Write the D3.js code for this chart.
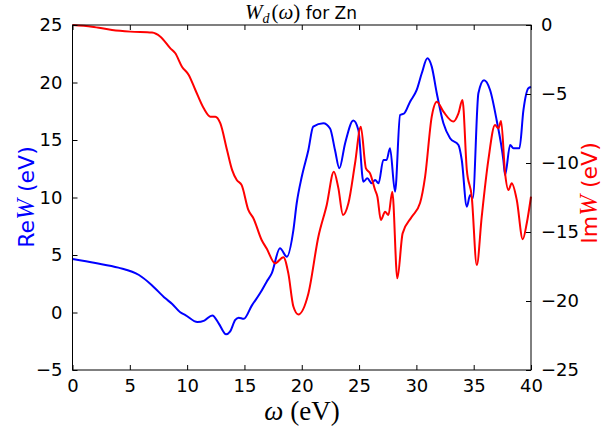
<!DOCTYPE html>
<html><head><meta charset="utf-8">
<script src="https://cdn.jsdelivr.net/npm/d3@7"></script>
<style>body{margin:0;background:#fff}</style>
</head><body>
<svg id="c" width="603" height="429"></svg>
<script>
const omegaRe = [0,2,4,5.8,6.9,8.1,8.7,9.4,9.85,10.9,11.5,12.2,12.75,13.4,13.74,14.2,14.5,14.94,15.64,16.36,16.94,17.38,18.1,18.7,19.27,19.56,20.0,20.58,21.0,21.88,22.47,22.9,23.28,23.78,24.5,24.94,25.38,25.72,26.1,26.4,26.7,27.12,27.4,27.7,28.14,28.58,28.93,29.45,30.03,30.47,30.96,31.34,31.78,32.36,32.94,33.67,33.96,34.4,34.69,34.92,35.41,35.9,36.43,37.0,37.59,37.74,38.18,38.47,38.99,39.34,39.77,40];
const reW = [4.65,4.3,3.9,3.26,2.4,1.23,0.74,0.02,-0.22,-0.83,-0.7,-0.25,-0.94,-1.9,-1.67,-0.65,-0.45,-0.55,0.6,1.67,2.68,3.4,5.58,4.85,7.17,9.5,11.8,14.13,16.16,16.45,16.0,14.13,12.54,14.7,16.7,15.87,11.37,11.67,11.23,11.52,11.23,13.26,13.26,14.28,10.5,17.17,17.3,18.33,19.35,20.8,22.1,21.38,19.06,16.45,15.15,14.57,13.26,9.2,10.22,9.93,19.06,20.2,19.35,16.74,13.26,11.96,14.57,14.28,14.28,17.6,19.5,19.6];
const omegaIm = [0,1.7,3.45,5.04,6.94,7.67,8.54,8.97,9.55,10.14,10.72,11.45,12.03,12.46,12.9,13.48,13.92,14.33,14.76,15.34,15.78,16.5,16.94,17.67,18.4,18.83,19.27,19.7,20.58,21.45,22.18,22.8,23.19,23.6,24.07,24.65,25.15,25.6,25.96,26.4,26.6,26.9,27.27,27.56,27.9,28.34,28.8,29.6,30.32,30.76,31.34,31.78,32.36,33.23,33.67,34.02,34.4,34.83,35.27,35.7,36.28,36.86,37.15,37.39,37.74,38.03,38.32,38.76,39.28,39.63,40];
const imW = [0,-0.12,-0.36,-0.48,-0.55,-0.85,-1.69,-2.05,-3.02,-3.62,-4.71,-6.04,-6.64,-6.64,-7.13,-9.06,-10.5,-11.23,-11.6,-13.4,-14.0,-15.58,-16.2,-17.27,-16.83,-18.0,-20.4,-20.97,-19.45,-15.34,-13.04,-10.63,-11.8,-13.77,-12.92,-10.02,-7.37,-10.39,-10.75,-11.96,-12.44,-14.13,-13.53,-13.77,-12.08,-18.36,-15.1,-13.9,-12.9,-11.0,-6.64,-5.56,-6.28,-7.0,-6.4,-5.43,-10.5,-12.44,-17.4,-13.9,-9.78,-7.25,-7.49,-6.96,-10.75,-11.96,-11.47,-12.68,-15.53,-14.37,-12.44];
const xTicks = [0,5,10,15,20,25,30,35,40];
const yLeftTicks = [-5,0,5,10,15,20,25];
const yRightTicks = [-25,-20,-15,-10,-5,0];

const L=72.5, R=531, T=25, B=370;
const svg = d3.select("#c");
const x = d3.scaleLinear().domain([0,40]).range([L,R]);
const yL = d3.scaleLinear().domain([-5,25]).range([B,T]);
const yR = d3.scaleLinear().domain([-25,0]).range([B,T]);
const font = "DejaVu Sans";

// curves
const lineRe = d3.line().x((d,i)=>x(omegaRe[i])).y(d=>yL(d)).curve(d3.curveMonotoneX);
const lineIm = d3.line().x((d,i)=>x(omegaIm[i])).y(d=>yR(d)).curve(d3.curveMonotoneX);
svg.append("path").attr("d",lineRe(reW)).attr("fill","none").attr("stroke","#0000ff").attr("stroke-width",2);
svg.append("path").attr("d",lineIm(imW)).attr("fill","none").attr("stroke","#ff0000").attr("stroke-width",2);

// frame
svg.append("rect").attr("x",L).attr("y",T).attr("width",R-L).attr("height",B-T)
  .attr("fill","none").attr("stroke","#000").attr("stroke-width",1);

// axes with inward ticks
function styleAx(g){ g.select(".domain").remove(); g.selectAll("line").attr("stroke","#000"); g.selectAll("text").attr("font-family",font).attr("font-size",18).attr("fill","#000"); }
svg.append("g").attr("transform",`translate(0,${B})`)
  .call(d3.axisBottom(x).tickValues(xTicks).tickSizeInner(-5).tickSizeOuter(0).tickPadding(9).tickFormat(d3.format("d")))
  .call(styleAx);
svg.append("g").attr("transform",`translate(0,${T})`)
  .call(d3.axisTop(x).tickValues(xTicks).tickSizeInner(-5).tickSizeOuter(0).tickFormat(""))
  .call(styleAx);
const minus = d=> d<0 ? "\u2212"+Math.abs(d) : ""+d;
svg.append("g").attr("transform",`translate(${L},0)`)
  .call(d3.axisLeft(yL).tickValues(yLeftTicks).tickSizeInner(-5).tickSizeOuter(0).tickPadding(10).tickFormat(minus))
  .call(styleAx);
svg.append("g").attr("transform",`translate(${R},0)`)
  .call(d3.axisRight(yR).tickValues(yRightTicks).tickSizeInner(-5).tickSizeOuter(0).tickPadding(10).tickFormat(minus))
  .call(styleAx);

// title
const title = svg.append("text").attr("x",301).attr("y",19).attr("text-anchor","middle").attr("font-size",17).attr("font-family",font);
title.append("tspan").attr("font-family","Liberation Serif").attr("font-style","italic").attr("font-size",21).text("W");
title.append("tspan").attr("font-family","Liberation Serif").attr("font-style","italic").attr("font-size",14).attr("dy",4).text("d");
title.append("tspan").attr("font-family","Liberation Serif").attr("font-size",21).attr("dy",-4).attr("dx",2).text("(");
title.append("tspan").attr("font-family","Liberation Serif").attr("font-style","italic").attr("font-size",21).text("ω");
title.append("tspan").attr("font-family","Liberation Serif").attr("font-size",21).text(")");
title.append("tspan").text(" for Zn");

// x label
const xl = svg.append("text").attr("x",302).attr("y",420).attr("text-anchor","middle").attr("font-family","Liberation Serif").attr("font-size",27);
xl.append("tspan").attr("font-style","italic").text("ω");
xl.append("tspan").text(" (eV)");

// left y label
const yl = svg.append("text").attr("transform","translate(34,197) rotate(-90)").attr("text-anchor","middle").attr("font-family",font).attr("font-size",22).attr("fill","#0000ff");
yl.append("tspan").text("Re");
yl.append("tspan").attr("font-family","Liberation Serif").attr("font-style","italic").attr("font-size",25).text("W");
yl.append("tspan").text(" (eV)");

// right y label
const yr = svg.append("text").attr("transform","translate(597,193) rotate(-90)").attr("text-anchor","middle").attr("font-family",font).attr("font-size",22).attr("fill","#ff0000");
yr.append("tspan").text("Im");
yr.append("tspan").attr("font-family","Liberation Serif").attr("font-style","italic").attr("font-size",25).text("W");
yr.append("tspan").text(" (eV)");
</script>
</body></html>
